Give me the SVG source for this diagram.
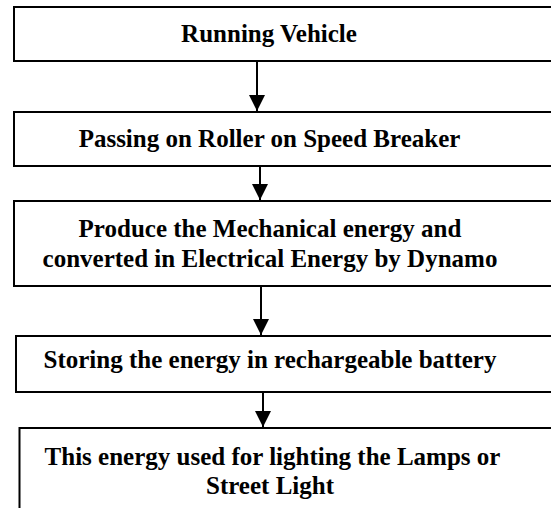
<svg xmlns="http://www.w3.org/2000/svg" width="551" height="508" viewBox="0 0 551 508">
<style>
.box{fill:#fff;stroke:#000;stroke-width:2}
.t{font-family:"Liberation Serif","Times New Roman",serif;font-weight:bold;font-size:25px;text-anchor:middle;fill:#000}
.c{stroke:#000;stroke-width:2;fill:none}
</style>
<defs>
<marker id="ah" markerWidth="8" markerHeight="8" refX="8" refY="4" orient="auto" markerUnits="strokeWidth">
<path d="M0,0 L8,4 L0,8 Z" fill="#000"/>
</marker>
</defs>
<rect width="551" height="508" fill="#fff"/>
<g id="n1"><rect class="box" x="14" y="7" width="560" height="54"/><text class="t" x="269" y="42">Running Vehicle</text></g>
<g id="n2"><rect class="box" x="14" y="112" width="560" height="54"/><text class="t" x="269.5" y="147">Passing on Roller on Speed Breaker</text></g>
<g id="n3"><rect class="box" x="14" y="201" width="560" height="85"/><text class="t" x="270" y="236.5">Produce the Mechanical energy and</text><text class="t" x="270" y="266.5">converted in Electrical Energy by Dynamo</text></g>
<g id="n4"><rect class="box" x="16" y="336" width="560" height="56"/><text class="t" x="270" y="368">Storing the energy in rechargeable battery</text></g>
<g id="n5"><rect class="box" x="19.5" y="428" width="560" height="100"/><text class="t" x="272.5" y="464.5">This energy used for lighting the Lamps or</text><text class="t" x="270" y="494">Street Light</text></g>
<g id="connectors">
<line class="c" x1="257" y1="61" x2="257" y2="111" marker-end="url(#ah)"/>
<line class="c" x1="260" y1="166" x2="260" y2="200" marker-end="url(#ah)"/>
<line class="c" x1="261" y1="286" x2="261" y2="335" marker-end="url(#ah)"/>
<line class="c" x1="263" y1="392" x2="263" y2="427" marker-end="url(#ah)"/>
</g>
</svg>
